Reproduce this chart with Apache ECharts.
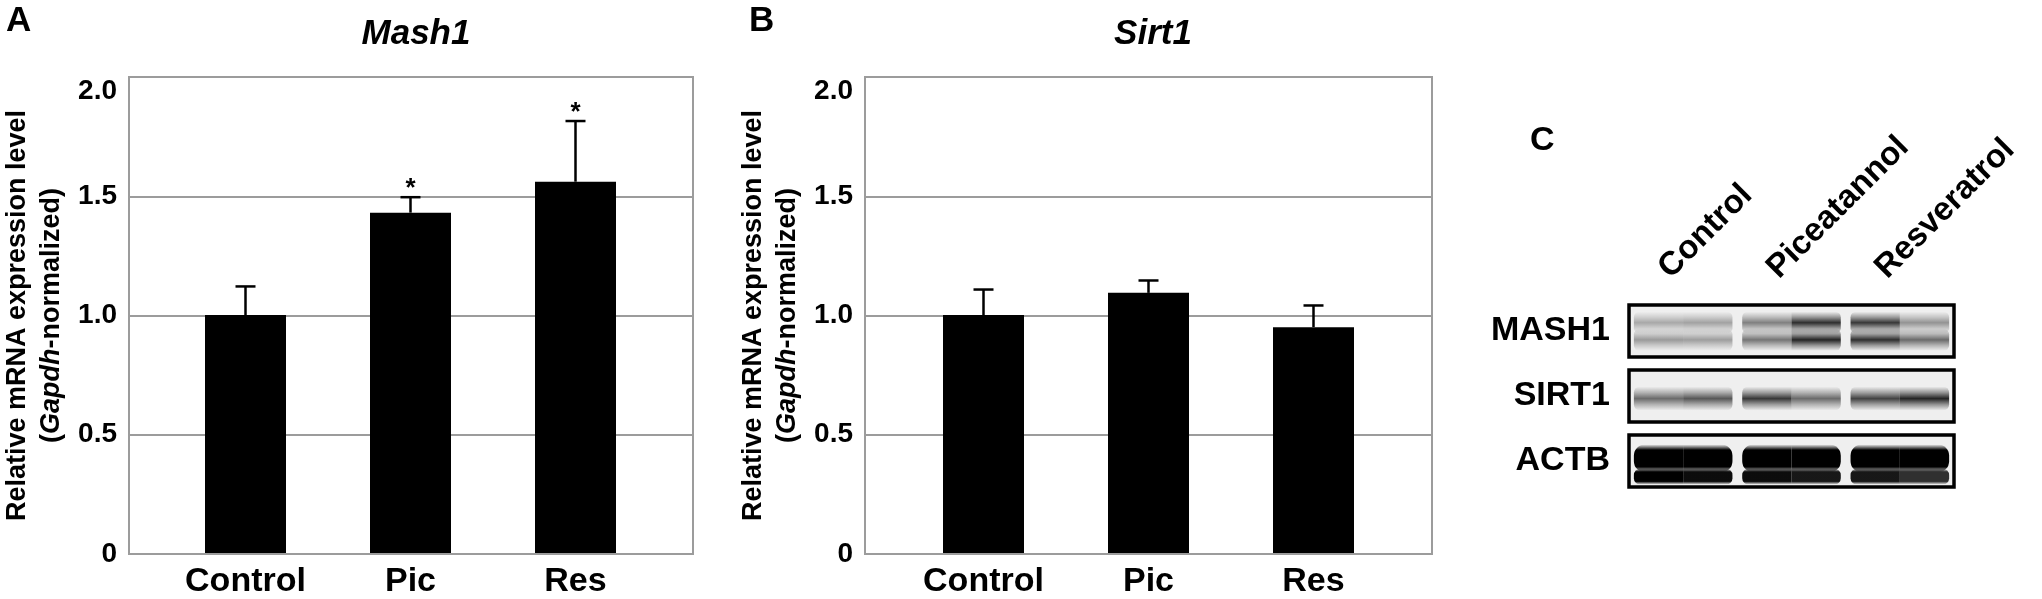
<!DOCTYPE html>
<html>
<head>
<meta charset="utf-8">
<script src="https://cdn.jsdelivr.net/npm/echarts@6/dist/echarts.min.js"></script>
<style>
  html, body { margin: 0; padding: 0; background: #fff; }
  #chart { width: 2042px; height: 599px; }
</style>
</head>
<body>
<div id="chart"></div>
<script>
// qPCR, relative mRNA (Gapdh-normalized)
const groups = ['Control', 'Pic', 'Res'];
const mashMean = [1.00, 1.43, 1.56];
const mashErr = [0.12, 0.065, 0.255];
const mashSig = ['', '*', '*'];
const sirtMean = [1.00, 1.093, 0.949];
const sirtErr = [0.107, 0.052, 0.091];
const sirtSig = ['', '', ''];

// western blot: band darkness per lane, [left half, right half]
const lanes = ['Control', 'Piceatannol', 'Resveratrol'];
const proteins = ['MASH1', 'SIRT1', 'ACTB'];
const mash1Upper = [[0.35, 0.38], [0.55, 0.95], [0.90, 0.45]];
const mash1Lower = [[0.42, 0.40], [0.60, 1.00], [0.95, 0.65]];
const sirt1Band = [[0.65, 0.75], [0.90, 0.65], [0.85, 1.00]];
const actbUpper = [[1, 1], [1, 1], [1, 1]];
const actbLower = [[1, 0.95], [0.95, 0.9], [0.9, 0.8]];
// where each band runs in its strip (0 bottom, 1 top)
const bandPos = { mash1Upper: 0.66, mash1Lower: 0.33, sirt1Band: 0.45, actbUpper: 0.55, actbLower: 0.2 };

const FONT = 'Liberation Sans, Arial, Helvetica, sans-serif';
const GRID_GRAY = '#9c9c9c';

function errorSeries(means, errs, sigs, axis) {
    return {
        type: 'custom',
        xAxisIndex: axis,
        yAxisIndex: axis,
        z: 5,
        data: means.map((m, i) => [i, m, errs[i]]),
        renderItem: function (params, api) {
            const x = api.value(0), m = api.value(1), e = api.value(2);
            const base = api.coord([x, m]);
            const top = api.coord([x, m + e]);
            const half = 10;
            const children = [
                { type: 'line', shape: { x1: base[0], y1: base[1], x2: top[0], y2: top[1] }, style: { stroke: '#000', lineWidth: 2.5 } },
                { type: 'line', shape: { x1: top[0] - half, y1: top[1], x2: top[0] + half, y2: top[1] }, style: { stroke: '#000', lineWidth: 2.5 } }
            ];
            const s = sigs[params.dataIndex];
            if (s) {
                children.push({
                    type: 'text',
                    style: { text: s, x: top[0], y: top[1] + 5, textAlign: 'center', textVerticalAlign: 'bottom', fill: '#000', font: 'bold 26px ' + FONT }
                });
            }
            return { type: 'group', children: children };
        }
    };
}

function bandSeries(values, y, h, soft, axis) {
    let data = [];
    for (let i = 0; i < values.length; ++i) {
        for (let j = 0; j < 2; ++j) {
            data.push([i, j, y, values[i][j]]);
        }
    }
    return {
        type: 'custom',
        xAxisIndex: axis,
        yAxisIndex: axis,
        clip: true,
        data: data,
        renderItem: function (params, api) {
            const lane = api.value(0), half = api.value(1), d = api.value(3);
            const c = api.coord([lane, api.value(2)]);
            const laneW = api.size([1, 0])[0];
            const segW = laneW * 0.455;
            const col = 'rgba(0,0,0,' + d + ')';
            const mid = 'rgba(0,0,0,' + (d * 0.45) + ')';
            const stops = soft
                ? [{ offset: 0, color: 'rgba(0,0,0,0)' }, { offset: 0.25, color: mid }, { offset: 0.5, color: col }, { offset: 0.75, color: mid }, { offset: 1, color: 'rgba(0,0,0,0)' }]
                : [{ offset: 0, color: 'rgba(0,0,0,0)' }, { offset: 0.2, color: col }, { offset: 0.8, color: col }, { offset: 1, color: 'rgba(0,0,0,0)' }];
            // round only the outer ends of a lane
            const rr = soft ? h / 4 : h / 2.5;
            const r = half === 0 ? [rr, 0, 0, rr] : [0, rr, rr, 0];
            return {
                type: 'rect',
                shape: { x: c[0] - segW + half * segW, y: c[1] - h / 2, width: segW, height: h, r: r },
                style: {
                    fill: new echarts.graphic.LinearGradient(0, 0, 0, 1, stops),
                    opacity: soft ? 0.85 : 1
                }
            };
        }
    };
}

function frameYAxis(grid) {
    return {
        gridIndex: grid,
        type: 'value',
        min: 0,
        max: 2,
        interval: 0.5,
        axisLine: { show: false },
        axisTick: { show: false },
        splitLine: { lineStyle: { color: GRID_GRAY, width: 2 } },
        axisLabel: {
            margin: 12,
            color: '#000',
            fontFamily: FONT,
            fontWeight: 'bold',
            fontSize: 28,
            verticalAlignMaxLabel: 'top',
            formatter: v => (v === 0 ? '0' : v.toFixed(1))
        },
        name: '{n|Relative mRNA expression level}\n{n|(}{i|Gapdh}{n|-normalized)}',
        nameLocation: 'middle',
        nameRotate: 90,
        nameGap: 60,
        nameTextStyle: {
            lineHeight: 34,
            rich: {
                n: { fontFamily: FONT, fontWeight: 'bold', fontSize: 27, color: '#000', lineHeight: 34 },
                i: { fontFamily: FONT, fontWeight: 'bold', fontStyle: 'italic', fontSize: 27, color: '#000', lineHeight: 34 }
            }
        }
    };
}

function barXAxis(grid) {
    return {
        gridIndex: grid,
        type: 'category',
        data: groups,
        axisLine: { show: false },
        axisTick: { show: false },
        axisLabel: { margin: 12, color: '#000', fontFamily: FONT, fontWeight: 'bold', fontSize: 34 }
    };
}

function hiddenValueY(grid, max) {
    return { gridIndex: grid, type: 'value', min: 0, max: max, show: false };
}

function blotYAxis(grid, label) {
    return {
        gridIndex: grid,
        type: 'value',
        min: 0,
        max: 1,
        interval: 0.5,
        axisLine: { show: false },
        axisTick: { show: false },
        splitLine: { show: false },
        axisLabel: {
            margin: 19,
            color: '#000',
            fontFamily: FONT,
            fontWeight: 'bold',
            fontSize: 34,
            formatter: v => (v === 0.5 ? label : '')
        }
    };
}

const titleStyle = (size, italic) => ({ fontFamily: FONT, fontWeight: 'bold', fontStyle: italic ? 'italic' : 'normal', fontSize: size, color: '#000' });
const blotGrid = top => ({ left: 1629, top: top, width: 325, height: 52, show: true, borderColor: '#000', borderWidth: 3.5, backgroundColor: '#efefef' });

let option = {
    animation: false,
    backgroundColor: '#fff',
    title: [
        { text: 'A', left: 1, top: -1, textStyle: titleStyle(35) },
        { text: 'B', left: 744, top: -1, textStyle: titleStyle(35) },
        { text: 'C', left: 1525, top: 119, textStyle: titleStyle(34) },
        { text: 'Mash1', left: 411, top: 12, textAlign: 'center', textStyle: titleStyle(35, true) },
        { text: 'Sirt1', left: 1148, top: 12, textAlign: 'center', textStyle: titleStyle(35, true) }
    ],
    grid: [
        { left: 128, top: 77, width: 565, height: 477, show: true, borderColor: GRID_GRAY, borderWidth: 2 },
        { left: 163, top: 77, width: 495, height: 477 },
        { left: 865, top: 77, width: 567, height: 477, show: true, borderColor: GRID_GRAY, borderWidth: 2 },
        { left: 901, top: 77, width: 495, height: 477 },
        blotGrid(305),
        blotGrid(370),
        blotGrid(435),
        { left: 1610, top: 305, width: 325, height: 52 }
    ],
    xAxis: [
        { gridIndex: 0, type: 'value', min: 0, max: 1, show: false },
        barXAxis(1),
        { gridIndex: 2, type: 'value', min: 0, max: 1, show: false },
        barXAxis(3),
        { gridIndex: 4, type: 'category', data: lanes, show: false },
        { gridIndex: 5, type: 'category', data: lanes, show: false },
        { gridIndex: 6, type: 'category', data: lanes, show: false },
        {
            gridIndex: 7,
            type: 'category',
            data: lanes,
            position: 'top',
            axisLine: { show: false },
            axisTick: { show: false },
            axisLabel: { rotate: 45, margin: 32, interval: 0, color: '#000', fontFamily: FONT, fontWeight: 'bold', fontSize: 33 }
        }
    ],
    yAxis: [
        frameYAxis(0),
        hiddenValueY(1, 2),
        frameYAxis(2),
        hiddenValueY(3, 2),
        blotYAxis(4, proteins[0]),
        blotYAxis(5, proteins[1]),
        blotYAxis(6, proteins[2]),
        hiddenValueY(7, 1)
    ],
    series: [
        { type: 'bar', xAxisIndex: 1, yAxisIndex: 1, data: mashMean, barWidth: 81, itemStyle: { color: '#000' } },
        errorSeries(mashMean, mashErr, mashSig, 1),
        { type: 'bar', xAxisIndex: 3, yAxisIndex: 3, data: sirtMean, barWidth: 81, itemStyle: { color: '#000' } },
        errorSeries(sirtMean, sirtErr, sirtSig, 3),
        bandSeries(mash1Upper, bandPos.mash1Upper, 22, true, 4),
        bandSeries(mash1Lower, bandPos.mash1Lower, 22, true, 4),
        bandSeries(sirt1Band, bandPos.sirt1Band, 24, true, 5),
        bandSeries(actbUpper, bandPos.actbUpper, 28, false, 6),
        bandSeries(actbLower, bandPos.actbLower, 16, false, 6)
    ]
};

let myChart = echarts.init(document.getElementById('chart'));
myChart.setOption(option);
</script>
</body>
</html>
